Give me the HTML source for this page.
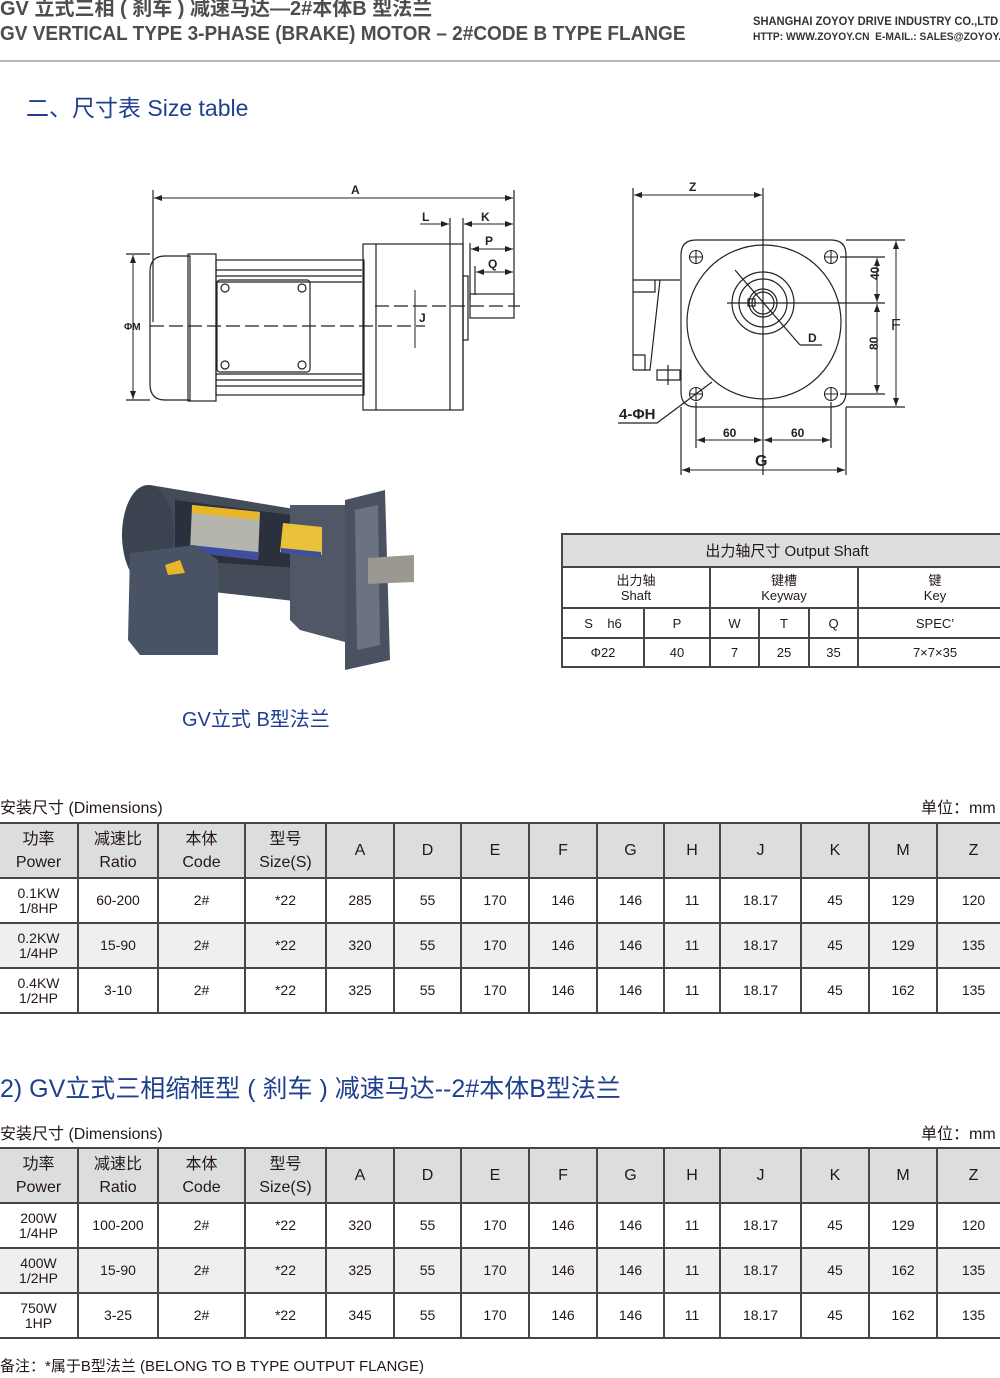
<!DOCTYPE html>
<html><head><meta charset="utf-8">
<style>
html,body{margin:0;padding:0;background:#fff;}
body{width:1000px;height:1378px;position:relative;overflow:hidden;font-family:"Liberation Sans","Noto Sans CJK SC",sans-serif;color:#231815;}
.abs{position:absolute;white-space:nowrap;}
table.d{position:absolute;left:0;border-collapse:collapse;table-layout:fixed;width:1010px;}
table.d td{border:2px solid #4a4545;text-align:center;padding:0;font-size:14px;line-height:15px;}
table.d tr.h td{background:#dcdddd;font-size:16px;line-height:23px;height:53px;}
table.d tr.g td{background:#efefef;}
table.d tr.r td{height:43px;}
table.d tr td:first-child{border-left:none;}
table.s{position:absolute;left:561px;top:533px;border-collapse:collapse;table-layout:fixed;width:450px;}
table.s td{border:2px solid #4a4545;text-align:center;padding:0;font-size:13px;}
</style></head><body>

<div class="abs" style="left:0;top:-2px;font-size:20px;font-weight:bold;color:#4d4d4d;line-height:22px;">GV 立式三相 ( 刹车 ) 减速马达—2#本体B 型法兰</div>
<div class="abs" style="left:0;top:22px;font-size:20px;font-weight:bold;color:#4d4d4d;line-height:24px;transform:scaleX(0.95);transform-origin:left;">GV VERTICAL TYPE 3-PHASE (BRAKE) MOTOR – 2#CODE B TYPE FLANGE</div>
<div class="abs" style="left:753px;top:14px;font-size:12px;font-weight:bold;color:#333;transform:scaleX(0.93);transform-origin:left;">SHANGHAI ZOYOY DRIVE INDUSTRY CO.,LTD</div>
<div class="abs" style="left:753px;top:31px;font-size:11px;font-weight:bold;color:#333;transform:scaleX(0.93);transform-origin:left;">HTTP: WWW.ZOYOY.CN&nbsp; E-MAIL.: SALES@ZOYOY.CN</div>
<div class="abs" style="left:0;top:60px;width:1000px;height:2px;background:#b8b8b8;"></div>
<div class="abs" style="left:26px;top:89px;font-size:23px;color:#1f3f8f;">二、尺寸表 Size table</div>

<svg class="abs" style="left:0;top:0" width="1000" height="700" viewBox="0 0 1000 700">
<defs><marker id="ar" markerWidth="8" markerHeight="6" refX="8" refY="3" orient="auto-start-reverse"><path d="M0,0 L8,3 L0,6 z" fill="#222"/></marker></defs>
<g stroke="#222" stroke-width="1.2" fill="none">
<line x1="153" y1="190" x2="153" y2="322"/>
<line x1="514" y1="190" x2="514" y2="305"/>
<line x1="154" y1="198" x2="513" y2="198" marker-start="url(#ar)" marker-end="url(#ar)" stroke-width="1"/>
<line x1="450" y1="218" x2="450" y2="410"/>
<line x1="463" y1="218" x2="463" y2="410"/>
<line x1="420" y1="224" x2="449" y2="224" marker-end="url(#ar)" stroke-width="1"/>
<line x1="464" y1="224" x2="513" y2="224" marker-start="url(#ar)" marker-end="url(#ar)" stroke-width="1"/>
<line x1="470" y1="243" x2="470" y2="300"/>
<line x1="471" y1="249" x2="513" y2="249" marker-start="url(#ar)" marker-end="url(#ar)" stroke-width="1"/>
<line x1="475" y1="266" x2="475" y2="295"/>
<line x1="476" y1="272" x2="513" y2="272" marker-start="url(#ar)" marker-end="url(#ar)" stroke-width="1"/>
<line x1="126" y1="254" x2="150" y2="254"/>
<line x1="126" y1="400" x2="150" y2="400"/>
<line x1="133" y1="255" x2="133" y2="399" marker-start="url(#ar)" marker-end="url(#ar)" stroke-width="1"/>
<line x1="415" y1="290" x2="415" y2="348" stroke-width="1"/>
<path d="M165,256 Q150,256 150,272 L150,384 Q150,400 165,400 L190,400 L190,256 Z"/>
<rect x="188" y="254" width="28" height="147"/>
<rect x="216" y="260" width="148" height="135"/>
<line x1="216" y1="270" x2="362" y2="270"/><line x1="216" y1="276" x2="362" y2="276"/><line x1="216" y1="282" x2="362" y2="282"/>
<line x1="216" y1="374" x2="362" y2="374"/><line x1="216" y1="380" x2="362" y2="380"/><line x1="216" y1="386" x2="362" y2="386"/>
<rect x="217" y="280" width="93" height="92" rx="3"/>
<circle cx="225" cy="288" r="4"/><circle cx="302" cy="288" r="4"/><circle cx="225" cy="365" r="4"/><circle cx="302" cy="365" r="4"/>
<rect x="363" y="244" width="100" height="166"/>
<line x1="376" y1="244" x2="376" y2="410"/>
<rect x="463" y="276" width="5" height="64"/>
<rect x="470" y="294" width="44" height="24"/>
<line x1="150" y1="326" x2="425" y2="326" stroke-dasharray="14,5"/>
<line x1="375" y1="306" x2="520" y2="306" stroke-dasharray="14,5"/>
<line x1="633" y1="188" x2="633" y2="370"/>
<line x1="634" y1="195" x2="762" y2="195" marker-start="url(#ar)" marker-end="url(#ar)" stroke-width="1"/>
<line x1="763" y1="188" x2="763" y2="475"/>
<path d="M696,240 L831,240 Q846,240 846,255 L846,392 Q846,407 831,407 L696,407 Q681,407 681,392 L681,255 Q681,240 696,240 Z"/>
<circle cx="764" cy="322" r="77"/>
<circle cx="763" cy="303" r="31"/><circle cx="763" cy="303" r="24"/><circle cx="763" cy="303" r="14"/><circle cx="763" cy="303" r="11"/>
<rect x="748" y="299" width="7" height="7"/>
<line x1="727" y1="303" x2="885" y2="303"/>
<line x1="735" y1="270" x2="800" y2="345"/><line x1="800" y1="345" x2="822" y2="345"/>
<g stroke-width="1.1"><circle cx="696" cy="257" r="6.5"/><circle cx="831" cy="257" r="6.5"/><circle cx="696" cy="394" r="6.5"/><circle cx="831" cy="394" r="6.5"/>
<path d="M689,257h14M696,250v14M824,257h14M831,250v14M689,394h14M696,387v14M824,394h14M831,387v14"/></g>
<path d="M633,280 L680,280 M633,370 L650,370 L660,280 M633,292 L655,292 L655,280 M633,355 L645,355 L645,370 M657,370 L680,370 L680,380 L657,380 Z M668,365 L668,385"/>
<line x1="846" y1="240" x2="905" y2="240"/><line x1="846" y1="407" x2="905" y2="407"/>
<line x1="840" y1="257" x2="885" y2="257"/><line x1="840" y1="394" x2="885" y2="394"/>
<line x1="877" y1="258" x2="877" y2="302" marker-start="url(#ar)" marker-end="url(#ar)" stroke-width="1"/>
<line x1="877" y1="304" x2="877" y2="393" marker-start="url(#ar)" marker-end="url(#ar)" stroke-width="1"/>
<line x1="896" y1="241" x2="896" y2="406" marker-start="url(#ar)" marker-end="url(#ar)" stroke-width="1"/>
<line x1="696" y1="402" x2="696" y2="448"/><line x1="831" y1="402" x2="831" y2="448"/>
<line x1="681" y1="407" x2="681" y2="475"/><line x1="846" y1="407" x2="846" y2="475"/>
<line x1="697" y1="440" x2="762" y2="440" marker-start="url(#ar)" marker-end="url(#ar)" stroke-width="1"/>
<line x1="764" y1="440" x2="830" y2="440" marker-start="url(#ar)" marker-end="url(#ar)" stroke-width="1"/>
<line x1="682" y1="470" x2="845" y2="470" marker-start="url(#ar)" marker-end="url(#ar)" stroke-width="1"/>
<path d="M618,423 L657,423 L712,382"/>
</g>
<g font-family="Liberation Sans, sans-serif" font-weight="bold" fill="#222" font-size="12">
<text x="351" y="194">A</text><text x="422" y="221">L</text><text x="481" y="221">K</text><text x="485" y="245">P</text><text x="488" y="268">Q</text>
<text x="419" y="322">J</text><text x="124" y="330" font-size="10">ΦM</text>
<text x="689" y="191">Z</text><text x="808" y="342">D</text>
<text x="872" y="287" transform="rotate(-90 872 280)" font-size="12">40</text>
<text x="872" y="356" transform="rotate(-90 872 350)" font-size="12">80</text>
<text x="891" y="330" font-size="16" font-weight="normal">F</text>
<text x="723" y="437">60</text><text x="791" y="437">60</text>
<text x="755" y="466" font-size="16">G</text>
<text x="619" y="419" font-size="15">4-ΦH</text>
</g>
<g>
<path d="M150,485 L330,515 L330,605 L150,585 Z" fill="#444c5a"/>
<ellipse cx="148" cy="535" rx="26" ry="50" fill="#3b4350"/>
<path d="M175,500 L330,520 L330,570 L175,560 Z" fill="#2a313c"/>
<path d="M192,505 L260,512 L258,560 L190,552 Z" fill="#b5b5ae"/>
<path d="M192,505 L260,512 L258,520 L192,513 Z" fill="#e9b627"/>
<path d="M190,545 L258,552 L258,560 L190,552 Z" fill="#3d4ea0"/>
<path d="M290,505 L360,505 L375,520 L375,650 L300,630 L290,620 Z" fill="#505868"/>
<path d="M283,523 L322,527 L322,555 L280,552 Z" fill="#e9c23a"/>
<path d="M281,548 L321,552 L321,557 L281,553 Z" fill="#3d4ea0"/>
<path d="M345,500 L385,490 L390,660 L345,670 Z" fill="#4a5262"/>
<path d="M355,510 L378,505 L380,645 L357,650 Z" fill="#6b7282"/>
<path d="M368,558 L414,555 L414,582 L368,584 Z" fill="#9a9890"/>
<path d="M130,553 L195,545 L218,560 L218,655 L140,655 L128,640 Z" fill="#4a5366"/>
<path d="M165,565 L180,560 L185,573 L168,575 Z" fill="#e7b62a"/>
</g>
</svg>

<table class="s">
<colgroup><col style="width:82px"><col style="width:66px"><col style="width:49px"><col style="width:50px"><col style="width:49px"><col style="width:154px"></colgroup>
<tr><td colspan="6" style="background:#dcdddd;height:31px;font-size:15px;">出力轴尺寸 Output Shaft</td></tr>
<tr><td colspan="2" style="height:39px;line-height:15px;">出力轴<br>Shaft</td><td colspan="3" style="line-height:15px;">键槽<br>Keyway</td><td style="line-height:15px;">键<br>Key</td></tr>
<tr><td style="height:28px;">S&nbsp;&nbsp;&nbsp;&nbsp;h6</td><td>P</td><td>W</td><td>T</td><td>Q</td><td>SPEC’</td></tr>
<tr><td style="height:27px;">Φ22</td><td>40</td><td>7</td><td>25</td><td>35</td><td>7×7×35</td></tr>
</table>

<div class="abs" style="left:182px;top:703px;font-size:20px;color:#1f3f8f;">GV立式 B型法兰</div>

<div class="abs" style="left:0;top:794px;font-size:16px;">安装尺寸 (Dimensions)</div>
<div class="abs" style="left:921px;top:794px;font-size:16px;">单位：mm</div>
<table class="d" style="top:822px;">
<colgroup><col style="width:78px"><col style="width:80px"><col style="width:87px"><col style="width:81px"><col style="width:68px"><col style="width:67px"><col style="width:68px"><col style="width:68px"><col style="width:67px"><col style="width:56px"><col style="width:81px"><col style="width:68px"><col style="width:68px"><col style="width:73px"></colgroup>
<tr class="h"><td>功率<br>Power</td><td>减速比<br>Ratio</td><td>本体<br>Code</td><td>型号<br>Size(S)</td><td>A</td><td>D</td><td>E</td><td>F</td><td>G</td><td>H</td><td>J</td><td>K</td><td>M</td><td>Z</td></tr>
<tr class="r"><td>0.1KW<br>1/8HP</td><td>60-200</td><td>2#</td><td>*22</td><td>285</td><td>55</td><td>170</td><td>146</td><td>146</td><td>11</td><td>18.17</td><td>45</td><td>129</td><td>120</td></tr>
<tr class="r g"><td>0.2KW<br>1/4HP</td><td>15-90</td><td>2#</td><td>*22</td><td>320</td><td>55</td><td>170</td><td>146</td><td>146</td><td>11</td><td>18.17</td><td>45</td><td>129</td><td>135</td></tr>
<tr class="r"><td>0.4KW<br>1/2HP</td><td>3-10</td><td>2#</td><td>*22</td><td>325</td><td>55</td><td>170</td><td>146</td><td>146</td><td>11</td><td>18.17</td><td>45</td><td>162</td><td>135</td></tr>
</table>

<div class="abs" style="left:0;top:1069px;font-size:25px;color:#1f3f8f;">2) GV立式三相缩框型 ( 刹车 ) 减速马达--2#本体B型法兰</div>
<div class="abs" style="left:0;top:1120px;font-size:16px;">安装尺寸 (Dimensions)</div>
<div class="abs" style="left:921px;top:1120px;font-size:16px;">单位：mm</div>
<table class="d" style="top:1147px;">
<colgroup><col style="width:78px"><col style="width:80px"><col style="width:87px"><col style="width:81px"><col style="width:68px"><col style="width:67px"><col style="width:68px"><col style="width:68px"><col style="width:67px"><col style="width:56px"><col style="width:81px"><col style="width:68px"><col style="width:68px"><col style="width:73px"></colgroup>
<tr class="h"><td>功率<br>Power</td><td>减速比<br>Ratio</td><td>本体<br>Code</td><td>型号<br>Size(S)</td><td>A</td><td>D</td><td>E</td><td>F</td><td>G</td><td>H</td><td>J</td><td>K</td><td>M</td><td>Z</td></tr>
<tr class="r"><td>200W<br>1/4HP</td><td>100-200</td><td>2#</td><td>*22</td><td>320</td><td>55</td><td>170</td><td>146</td><td>146</td><td>11</td><td>18.17</td><td>45</td><td>129</td><td>120</td></tr>
<tr class="r g"><td>400W<br>1/2HP</td><td>15-90</td><td>2#</td><td>*22</td><td>325</td><td>55</td><td>170</td><td>146</td><td>146</td><td>11</td><td>18.17</td><td>45</td><td>162</td><td>135</td></tr>
<tr class="r"><td>750W<br>1HP</td><td>3-25</td><td>2#</td><td>*22</td><td>345</td><td>55</td><td>170</td><td>146</td><td>146</td><td>11</td><td>18.17</td><td>45</td><td>162</td><td>135</td></tr>
</table>
<div class="abs" style="left:0;top:1355px;font-size:15px;">备注：*属于B型法兰 (BELONG TO B TYPE OUTPUT FLANGE)</div>
</body></html>
